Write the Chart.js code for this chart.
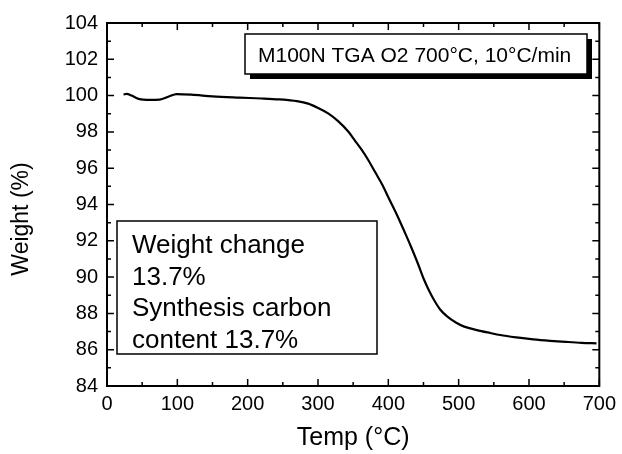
<!DOCTYPE html>
<html>
<head>
<meta charset="utf-8">
<script src="https://cdn.jsdelivr.net/npm/chart.js@4"></script>
<style>
  html, body { margin: 0; padding: 0; background: #fff; }
  #wrap { width: 622px; height: 454px; position: relative; }
</style>
</head>
<body>
<div id="wrap"><canvas id="c" width="622" height="454"></canvas></div>
<script>
// TGA run: temperature (°C) and remaining weight (%)
const tempC = [23.5, 28, 35, 45, 61, 75, 88, 99, 120, 150, 188, 220, 245, 258, 270, 286,
  300, 315, 329, 343, 352, 362, 371, 381, 392, 400, 412, 423, 432, 442, 451, 458, 465,
  474, 484, 496, 508, 526, 545, 559, 582, 606, 630, 653, 675, 696];
const weightPct = [100.06, 100.1, 100.0, 99.82, 99.76, 99.78, 99.95, 100.08, 100.05, 99.96,
  99.89, 99.84, 99.79, 99.75, 99.70, 99.56, 99.32, 99.01, 98.58, 98.02, 97.55, 97.02, 96.48,
  95.8, 95.05, 94.4, 93.45, 92.5, 91.7, 90.75, 89.84, 89.25, 88.74, 88.2, 87.82, 87.5,
  87.27, 87.08, 86.92, 86.81, 86.68, 86.57, 86.49, 86.43, 86.38, 86.35];

const xTicks = [0, 100, 200, 300, 400, 500, 600, 700];
const yTicks = [84, 86, 88, 90, 92, 94, 96, 98, 100, 102, 104];

const infoTitle = 'M100N TGA O2 700°C, 10°C/min';
const noteLines = ['Weight change', '13.7%', 'Synthesis carbon', 'content 13.7%'];
const xTitle = 'Temp (°C)';
const yTitle = 'Weight (%)';

const FONT = '"Liberation Sans", Arial, sans-serif';

const points = tempC.map((t, i) => ({ x: t, y: weightPct[i] }));

// Frame, inward ticks on all four sides, annotation boxes and axis titles
const decor = {
  id: 'decor',
  afterDraw(chart) {
    const { ctx, chartArea: a, scales: { x, y } } = chart;
    ctx.save();
    ctx.strokeStyle = '#000';
    ctx.lineWidth = 2;
    ctx.strokeRect(a.left, a.top, a.right - a.left, a.bottom - a.top);

    ctx.lineWidth = 1.5;
    const major = 7, minor = 4;
    ctx.beginPath();
    for (let i = 0; i < xTicks.length; i++) {
      const px = x.getPixelForValue(xTicks[i]);
      ctx.moveTo(px, a.bottom); ctx.lineTo(px, a.bottom - major);
      ctx.moveTo(px, a.top); ctx.lineTo(px, a.top + major);
      if (i < xTicks.length - 1) {
        const pm = x.getPixelForValue((xTicks[i] + xTicks[i + 1]) / 2);
        ctx.moveTo(pm, a.bottom); ctx.lineTo(pm, a.bottom - minor);
        ctx.moveTo(pm, a.top); ctx.lineTo(pm, a.top + minor);
      }
    }
    for (let i = 0; i < yTicks.length; i++) {
      const py = y.getPixelForValue(yTicks[i]);
      ctx.moveTo(a.left, py); ctx.lineTo(a.left + major, py);
      ctx.moveTo(a.right, py); ctx.lineTo(a.right - major, py);
      if (i < yTicks.length - 1) {
        const pm = y.getPixelForValue((yTicks[i] + yTicks[i + 1]) / 2);
        ctx.moveTo(a.left, pm); ctx.lineTo(a.left + minor, pm);
        ctx.moveTo(a.right, pm); ctx.lineTo(a.right - minor, pm);
      }
    }
    ctx.stroke();

    // header box with drop shadow
    ctx.fillStyle = '#000';
    ctx.fillRect(250, 39, 342, 40);
    ctx.fillStyle = '#fff';
    ctx.fillRect(245, 34, 342, 40);
    ctx.lineWidth = 1.5;
    ctx.strokeRect(245, 34, 342, 40);
    ctx.fillStyle = '#000';
    ctx.font = '21px ' + FONT;
    ctx.textAlign = 'left';
    ctx.textBaseline = 'alphabetic';
    ctx.fillText(infoTitle, 258, 62);

    // note box
    ctx.fillStyle = '#fff';
    ctx.fillRect(117, 221, 260, 133);
    ctx.strokeRect(117, 221, 260, 133);
    ctx.fillStyle = '#000';
    ctx.font = '26px ' + FONT;
    noteLines.forEach((s, i) => ctx.fillText(s, 132, 253 + i * 31.5));

    // axis titles
    ctx.font = '25px ' + FONT;
    ctx.textAlign = 'center';
    ctx.textBaseline = 'middle';
    ctx.fillText(xTitle, (a.left + a.right) / 2, 438);
    ctx.save();
    ctx.translate(22, 219);
    ctx.rotate(-Math.PI / 2);
    ctx.font = '23px ' + FONT;
    ctx.fillText(yTitle, 0, 0);
    ctx.restore();
    ctx.restore();
  }
};

const tickFont = { family: FONT, size: 20 };

new Chart(document.getElementById('c'), {
  type: 'line',
  data: {
    datasets: [{
      data: points,
      borderColor: '#000',
      borderWidth: 2.2,
      pointRadius: 0,
      fill: false,
      cubicInterpolationMode: 'monotone'
    }]
  },
  options: {
    responsive: false,
    animation: false,
    events: [],
    layout: { padding: { top: 23, right: 19, left: 0, bottom: 0 } },
    plugins: { legend: { display: false }, tooltip: { enabled: false } },
    scales: {
      x: {
        type: 'linear', min: 0, max: 700,
        grid: { display: false, drawTicks: false },
        border: { display: false },
        afterBuildTicks: s => { s.ticks = xTicks.map(v => ({ value: v })); },
        afterFit: s => { s.height = 68; },
        ticks: { color: '#000', font: tickFont, padding: 6, maxRotation: 0, autoSkip: false }
      },
      y: {
        type: 'linear', min: 84, max: 104,
        grid: { display: false, drawTicks: false },
        border: { display: false },
        afterBuildTicks: s => { s.ticks = yTicks.map(v => ({ value: v })); },
        afterFit: s => { s.width = 107; },
        ticks: { color: '#000', font: tickFont, padding: 9, autoSkip: false }
      }
    }
  },
  plugins: [decor]
});
</script>
</body>
</html>
